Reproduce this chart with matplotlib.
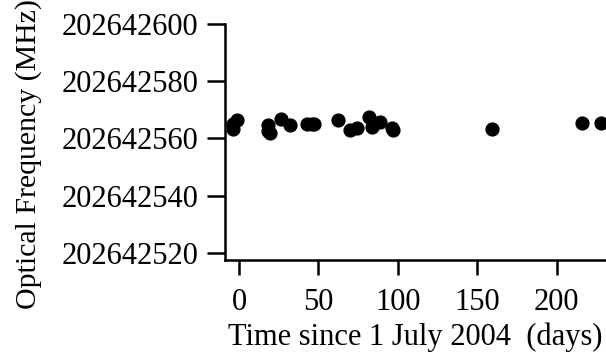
import matplotlib.pyplot as plt
import numpy as np

plt.rcParams['font.family'] = ['Liberation Serif', 'DejaVu Serif']

# offset so tick labels can show the full frequency
f0 = 202642000

days = [-1.4, -4, -4, 18.4, 18.4, 19.5, 26.6, 32, 42.5, 45.7, 47,
        62.5, 70, 74, 82, 84, 88.7, 97, 96, 159, 216, 228]
freq = [566.3, 565, 563.3, 564.8, 562.5, 562.0, 566.8, 564.6, 565, 565, 565,
        566.6, 562.8, 563.6, 567.4, 564.0, 565.6, 562.8, 563.6, 563.4, 565.4, 565.4]

yticks = [520, 540, 560, 580, 600]
xticks = [0, 50, 100, 150, 200]

fig = plt.figure(figsize=(6.06, 3.61), dpi=100)
ax = fig.add_axes([225/606, 101/361, 381/606, 236/361])

ax.scatter(days, freq, s=85, color='black', zorder=3)

ax.set_xlim(-8.8, 231)
ax.set_ylim(517.5, 600)
ax.set_yticks(yticks)
ax.set_yticklabels([str(f0 + v) for v in yticks])
ax.set_xticks(xticks)

for s in ['top', 'right']:
    ax.spines[s].set_visible(False)
for s in ['left', 'bottom']:
    ax.spines[s].set_linewidth(1.8)

ax.tick_params(axis='y', direction='out', length=13, width=1.8, labelsize=22, pad=6)
ax.tick_params(axis='x', direction='out', length=11, width=1.8, labelsize=22, pad=9)

ax.set_xlabel('Time since 1 July 2004  (days)', fontsize=22, labelpad=4)
ax.set_ylabel('Optical Frequency (MHz)', fontsize=21.5)
ax.yaxis.set_label_coords(-0.48, 0.45)

fig.savefig('out.png', dpi=100)
